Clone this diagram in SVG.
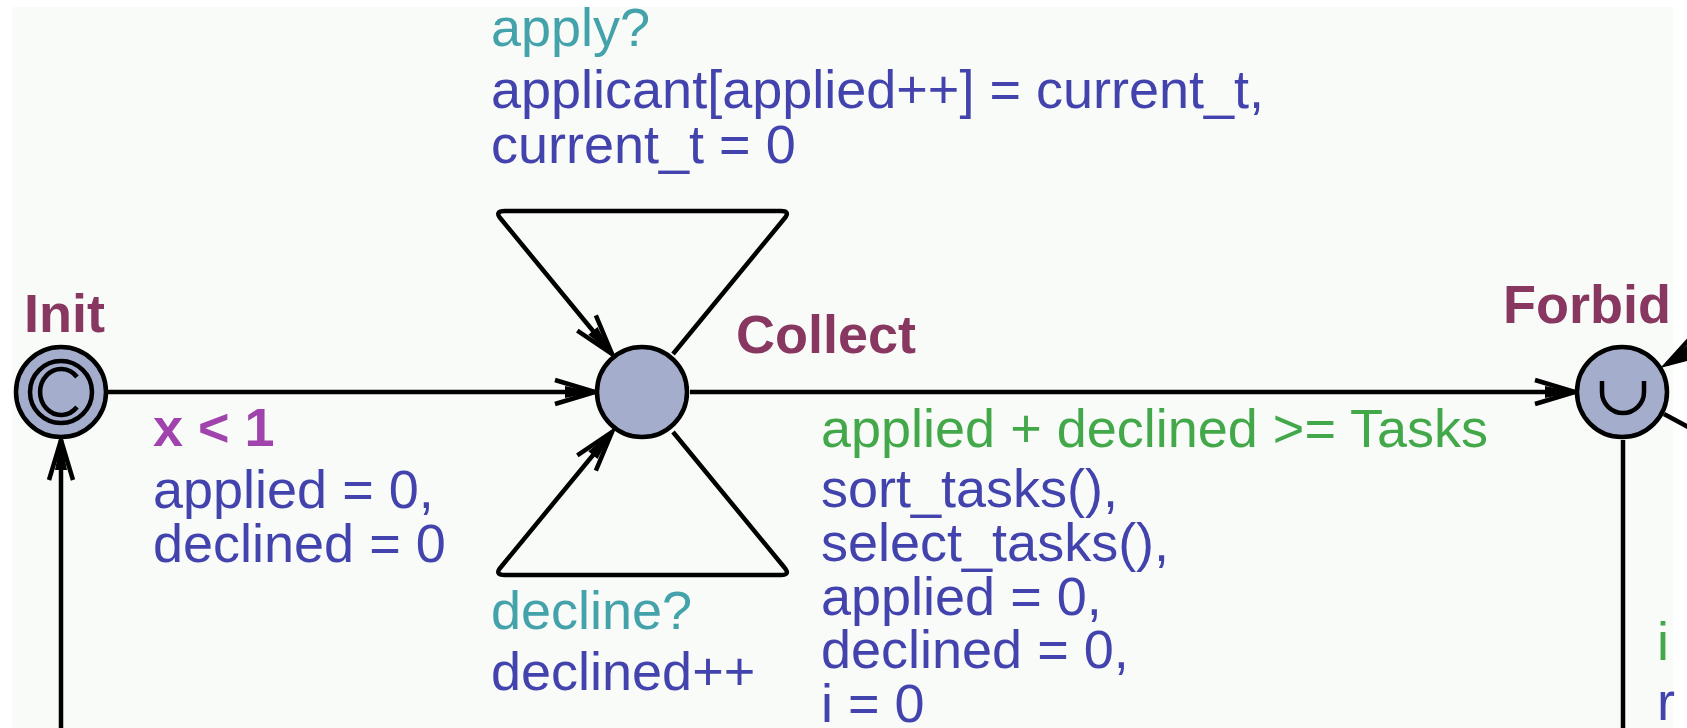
<svg xmlns="http://www.w3.org/2000/svg" width="1687" height="728" viewBox="0 0 1687 728">
<defs>
<style>
text{font-family:"Liberation Sans",Arial,sans-serif;font-size:54px}
.name{font-weight:bold;fill:#883760}
.sync{fill:#43a2aa}
.upd{fill:#4343ad}
.grd{fill:#42a84a}
.inv{fill:#a043ad;font-weight:bold}
.loc{fill:#a4adcc;stroke:#000;stroke-width:4.5}
.edge{fill:none;stroke:#000;stroke-width:4.5;stroke-linejoin:round}
.sym{fill:none;stroke:#000;stroke-width:4.5}
</style>
<marker id="arr" markerUnits="userSpaceOnUse" markerWidth="50" markerHeight="30" refX="0" refY="0" viewBox="-44 -15 50 30" orient="auto" overflow="visible">
<path d="M-40,-12 L0,0 L-40,12" fill="none" stroke="#000" stroke-width="4.5"/>
<path d="M0,0 L-30,-6 L-30,6 Z" fill="#000"/>
</marker>
</defs>
<rect x="0" y="0" width="1687" height="728" fill="#ffffff"/>
<rect x="12" y="7" width="1661" height="721" fill="#f9fbf9"/>

<g id="connectors">
<line class="edge" x1="108" y1="392" x2="595" y2="392" marker-end="url(#arr)"/>
<line class="edge" x1="690" y1="392" x2="1575" y2="392" marker-end="url(#arr)"/>
<line class="edge" x1="61" y1="728" x2="61" y2="440" marker-end="url(#arr)"/>
<line class="edge" x1="1623" y1="440" x2="1623" y2="728"/>
<path class="edge" d="M673,354 L784,219 Q791,211 781,211 L505,211 Q494,211 501,219 L612,354" marker-end="url(#arr)"/>
<path class="edge" d="M673,432 L784,567 Q791,575 781,575 L505,575 Q494,575 501,567 L612,432" marker-end="url(#arr)"/>
<line class="edge" x1="1690" y1="350" x2="1667" y2="364" marker-end="url(#arr)"/>
<line class="edge" x1="1664" y1="414" x2="1690" y2="428"/>
</g>

<g id="Init">
<circle class="loc" cx="61" cy="392" r="45"/>
<circle class="sym" cx="61" cy="392" r="31"/>
<path class="sym" d="M77,377 A21,23 0 1 0 77,407"/>
<text class="name" x="24" y="332">Init</text>
</g>

<g id="Collect">
<circle class="loc" cx="642" cy="392" r="45"/>
<text class="name" x="736" y="353">Collect</text>
</g>

<g id="Forbid">
<circle class="loc" cx="1622" cy="392" r="45"/>
<path class="sym" d="M1602,381 L1602,392 A21,21 0 0 0 1644,392 L1644,381"/>
<text class="name" x="1503" y="323">Forbid</text>
</g>

<g id="labels">
<text class="sync" x="491" y="46">apply?</text>
<text class="upd" x="491" y="108">applicant[applied++] = current_t,</text>
<text class="upd" x="491" y="163">current_t = 0</text>

<text class="inv" x="153" y="446">x &lt; 1</text>
<text class="upd" x="153" y="508">applied = 0,</text>
<text class="upd" x="153" y="562">declined = 0</text>

<text class="sync" x="491" y="629">decline?</text>
<text class="upd" x="491" y="690">declined++</text>

<text class="grd" x="821" y="447">applied + declined &gt;= Tasks</text>
<text class="upd" x="821" y="507">sort_tasks(),</text>
<text class="upd" x="821" y="561">select_tasks(),</text>
<text class="upd" x="821" y="615">applied = 0,</text>
<text class="upd" x="821" y="668">declined = 0,</text>
<text class="upd" x="821" y="722">i = 0</text>

<text class="grd" x="1657" y="660">i</text>
<text class="upd" x="1657" y="720">r</text>
</g>
</svg>
